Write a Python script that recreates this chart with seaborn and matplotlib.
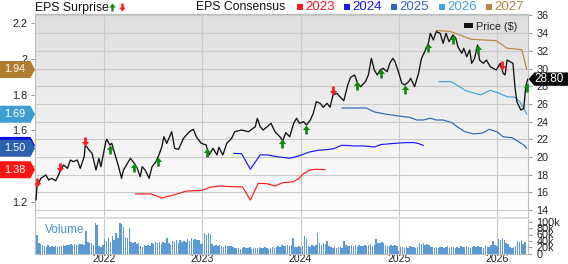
import numpy as np
import matplotlib
matplotlib.use("Agg")
import matplotlib.pyplot as plt
import seaborn as sns
from matplotlib.path import Path
from matplotlib.patches import Polygon, Rectangle
from matplotlib.lines import Line2D
from matplotlib.colors import LinearSegmentedColormap

# ---------------- data ----------------
price_t = [2021.31, 2021.32, 2021.36, 2021.41, 2021.44, 2021.47, 2021.51, 2021.54, 2021.56, 2021.59,
           2021.63, 2021.66, 2021.69, 2021.73, 2021.76, 2021.80, 2021.81, 2021.83, 2021.85, 2021.88,
           2021.92, 2021.95, 2021.97, 2021.99, 2022.02, 2022.03, 2022.06, 2022.08, 2022.12, 2022.15,
           2022.18, 2022.20, 2022.24, 2022.27, 2022.31, 2022.34, 2022.37, 2022.39, 2022.42, 2022.46,
           2022.49, 2022.53, 2022.56, 2022.59, 2022.61, 2022.64, 2022.69, 2022.72, 2022.76, 2022.81,
           2022.87, 2022.91, 2022.94, 2022.99, 2023.04, 2023.07, 2023.11, 2023.15, 2023.17, 2023.21,
           2023.25, 2023.30, 2023.33, 2023.40, 2023.47, 2023.54, 2023.56, 2023.59, 2023.62, 2023.66,
           2023.70, 2023.74, 2023.79, 2023.82, 2023.85, 2023.89, 2023.93, 2023.96, 2023.99, 2024.03,
           2024.06, 2024.10, 2024.13, 2024.16, 2024.20, 2024.23, 2024.27, 2024.30, 2024.33, 2024.37,
           2024.40, 2024.44, 2024.48, 2024.51, 2024.55, 2024.58, 2024.61, 2024.66, 2024.69, 2024.72,
           2024.75, 2024.78, 2024.81, 2024.84, 2024.88, 2024.91, 2024.94, 2024.96, 2024.99, 2025.03,
           2025.06, 2025.10, 2025.12, 2025.16, 2025.20, 2025.23, 2025.27, 2025.30, 2025.32, 2025.35,
           2025.38, 2025.42, 2025.45, 2025.48, 2025.51, 2025.55, 2025.58, 2025.60, 2025.64, 2025.66,
           2025.69, 2025.72, 2025.74, 2025.77, 2025.80, 2025.82, 2025.86, 2025.89, 2025.93, 2025.96,
           2025.99, 2026.03, 2026.06, 2026.08, 2026.10, 2026.13, 2026.16, 2026.18, 2026.20, 2026.24,
           2026.27, 2026.29, 2026.31]
price_v = [15.14, 16.64, 17.59, 17.97, 17.40, 17.59, 17.32, 17.97, 18.53, 19.10,
           18.72, 19.66, 19.47, 19.66, 18.72, 20.03, 21.24, 21.10, 20.79, 20.42,
           18.53, 19.85, 18.90, 20.03, 21.73, 22.00, 21.36, 21.55, 20.03, 18.90,
           17.59, 18.53, 19.29, 19.85, 19.29, 18.72, 17.77, 18.90, 18.53, 17.59,
           18.90, 19.47, 20.23, 21.16, 22.29, 21.55, 22.86, 20.98, 20.87, 22.11,
           22.86, 23.13, 22.29, 21.55, 21.36, 20.23, 20.98, 20.23, 21.10, 20.23,
           21.55, 22.11, 22.86, 23.05, 22.86, 23.42, 24.37, 23.42, 23.05, 23.42,
           23.81, 22.86, 22.29, 21.84, 22.75, 22.29, 23.81, 24.37, 23.81, 23.99,
           23.62, 24.18, 24.94, 26.25, 26.07, 25.62, 26.07, 25.62, 27.01, 27.20,
           26.81, 26.36, 28.14, 29.01, 29.27, 28.33, 27.94, 28.51, 29.27, 31.15,
           29.83, 29.27, 29.83, 30.02, 29.64, 30.66, 31.15, 30.77, 29.83, 28.33,
           28.14, 28.51, 28.89, 27.94, 29.46, 31.15, 32.09, 32.85, 33.98, 33.22,
           34.16, 33.98, 32.85, 33.98, 33.03, 33.79, 33.41, 32.46, 31.72, 32.28,
           31.33, 32.09, 30.59, 31.15, 32.66, 30.96, 30.59, 30.96, 30.20, 30.02,
           29.83, 30.59, 29.46, 29.27, 30.96, 30.77, 30.59, 27.94, 26.25, 25.31,
           25.50, 27.94, 28.80]

e2023_t = [2022.32, 2022.48, 2022.59, 2022.71, 2022.84, 2022.99, 2023.08, 2023.18, 2023.28, 2023.41,
           2023.49, 2023.57, 2023.66, 2023.74, 2023.82, 2023.92, 2023.98, 2024.03, 2024.09, 2024.15, 2024.25]
e2023_v = [1.245, 1.245, 1.222, 1.239, 1.261, 1.264, 1.282, 1.289, 1.286, 1.284,
           1.211, 1.304, 1.302, 1.289, 1.308, 1.312, 1.330, 1.358, 1.377, 1.383, 1.38]
e2024_t = [2023.32, 2023.40, 2023.49, 2023.59, 2023.66, 2023.76, 2023.89, 2023.98, 2024.09, 2024.18,
           2024.28, 2024.34, 2024.42, 2024.55, 2024.64, 2024.75, 2024.82, 2024.95, 2025.05, 2025.15,
           2025.20, 2025.25]
e2024_v = [1.471, 1.470, 1.383, 1.463, 1.463, 1.453, 1.444, 1.457, 1.479, 1.489,
           1.493, 1.498, 1.517, 1.513, 1.513, 1.507, 1.521, 1.527, 1.531, 1.532,
           1.526, 1.516]
e2025_t = [2024.42, 2024.67, 2024.75, 2024.85, 2025.00, 2025.11, 2025.18, 2025.25, 2025.32, 2025.38,
           2025.45, 2025.54, 2025.59, 2025.67, 2025.76, 2025.85, 2025.92, 2026.00, 2026.06, 2026.15,
           2026.22, 2026.27, 2026.30]
e2025_v = [1.725, 1.725, 1.703, 1.692, 1.680, 1.673, 1.658, 1.658, 1.668, 1.658,
           1.658, 1.643, 1.621, 1.593, 1.580, 1.585, 1.606, 1.591, 1.564, 1.559,
           1.536, 1.518, 1.50]
e2026_t = [2025.41, 2025.53, 2025.59, 2025.68, 2025.83, 2025.93, 2026.02, 2026.10, 2026.18, 2026.23,
           2026.28, 2026.30]
e2026_v = [1.872, 1.872, 1.854, 1.822, 1.798, 1.824, 1.807, 1.788, 1.785, 1.760, 1.714, 1.69]
e2027_t = [2025.38, 2025.52, 2025.62, 2025.73, 2025.99, 2026.10, 2026.25, 2026.30]
e2027_v = [2.158, 2.153, 2.133, 2.109, 2.101, 2.059, 2.051, 1.94]

beat_t = [2022.06, 2022.31, 2022.55, 2023.05, 2023.81, 2024.06, 2024.57, 2024.82, 2025.06,
          2025.30, 2025.55, 2025.80, 2026.30]
miss_t = [2021.32, 2021.55, 2021.81, 2024.33, 2026.05]

vol_start = 2021.30
volume_k = [52, 57, 35, 30, 28, 24, 22, 26, 21, 23, 20, 24, 22,
            25, 23, 27, 24, 26, 28, 30, 27, 31, 28, 26, 30, 29,
            27, 70, 36, 33, 35, 28, 97, 90, 25, 22, 27, 45, 40,
            48, 38, 55, 42, 65, 50, 97, 93, 85, 52, 48, 80, 36,
            33, 38, 30, 35, 25, 22, 28, 24, 26, 23, 35, 30, 38,
            33, 36, 30, 38, 34, 50, 32, 28, 40, 37, 42, 35, 44,
            38, 41, 36, 45, 40, 48, 43, 46, 42, 44, 30, 35, 65,
            60, 66, 62, 30, 25, 27, 23, 26, 24, 22, 28, 25, 24,
            23, 20, 18, 17, 19, 16, 18, 20, 17, 18, 21, 16, 19,
            18, 17, 20, 19, 17, 22, 18, 16, 19, 21, 17, 20, 24,
            22, 26, 25, 23, 28, 24, 27, 50, 22, 20, 24, 21, 23,
            55, 47, 25, 22, 26, 24, 27, 65, 32, 28, 35, 30, 40,
            25, 20, 18, 21, 19, 22, 20, 18, 40, 28, 25, 23, 27,
            24, 26, 22, 28, 25, 23, 27, 24, 26, 29, 25, 28, 47,
            35, 32, 36, 33, 27, 25, 23, 26, 24, 27, 25, 7, 20,
            22, 19, 21, 18, 23, 20, 22, 19, 21, 35, 30, 32, 28,
            30, 27, 22, 20, 18, 21, 19, 22, 20, 18, 21, 23, 19,
            20, 22, 18, 21, 19, 24, 22, 20, 23, 21, 19, 22, 24,
            20, 23, 21, 22, 19, 24, 22, 20, 26, 40, 28, 25, 45,
            42, 48, 44, 35, 30, 20, 18, 21, 25, 40, 38, 42, 30,
            38]

years = [2022, 2023, 2024, 2025, 2026]
price_ticks = [14, 16, 18, 20, 22, 24, 26, 28, 30, 32, 34, 36]
eps_ticks = [1.2, 1.4, 1.6, 1.8, 2.0, 2.2]
eps_tick_labels = ["1.2", "1.4", "1.6", "1.8", "2", "2.2"]
vol_ticks = [0, 20, 40, 60, 80, 100]
vol_tick_labels = ["0", "20k", "40k", "60k", "80k", "100k"]

series = [("2023", e2023_t, e2023_v, "#ff1a1a"),
          ("2024", e2024_t, e2024_v, "#1a1aff"),
          ("2025", e2025_t, e2025_v, "#2f68b4"),
          ("2026", e2026_t, e2026_v, "#45a3d8"),
          ("2027", e2027_t, e2027_v, "#b8873f")]
tag_colors = {"2023": "#ff1414", "2024": "#0a0af0", "2025": "#2b62ad",
              "2026": "#3d9fd1", "2027": "#b07d30"}

# ---------------- layout ----------------
sns.set_style("white")
plt.rcParams["font.family"] = ["Liberation Sans", "DejaVu Sans"]

W, H = 568, 264
fig = plt.figure(figsize=(W / 100, H / 100), dpi=100)


def fx(px):
    return px / W


def fy(py):
    return 1 - py / H


X0, X1 = 35, 528
PT, PB = 14, 217
VT, VB = 218.5, 253.7
XL, XR = 2021.30, 2026.313
P_LO, P_HI = 13.22, 36.16
E_LO, E_HI = 1.116, 2.250
GRID = "#cacaca"
SPINE = "#bdbdbd"
TXT = "#222222"

ax_e = fig.add_axes([fx(X0), fy(PB), fx(X1 - X0), (PB - PT) / H])
ax_p = ax_e.twinx()

# gradient background
cmap = LinearSegmentedColormap.from_list("g", ["#dedede", "#ffffff"])
ax_e.imshow(np.linspace(0, 1, 256).reshape(-1, 1), cmap=cmap, extent=[0, 1, 0, 1],
            transform=ax_e.transAxes, aspect="auto", zorder=0)

# EPS consensus lines
for name, t, v, c in series:
    sns.lineplot(x=t, y=v, ax=ax_e, color=c, linewidth=0.85, estimator=None, sort=False)

ax_e.set_xlim(XL, XR)
ax_e.set_ylim(E_LO, E_HI)
ax_e.set_yticks(eps_ticks)
ax_e.set_yticklabels(eps_tick_labels)
# grid at price ticks (expressed in EPS units of this axis)
grid_e = [E_LO + (p - P_LO) / (P_HI - P_LO) * (E_HI - E_LO) for p in price_ticks]
ax_e.set_yticks(grid_e, minor=True)
ax_e.set_xticks(years)
ax_e.set_axisbelow(True)
ax_e.grid(False)
ax_e.yaxis.grid(True, which="minor", color=GRID, linewidth=0.8)
ax_e.xaxis.grid(True, which="major", color=GRID, linewidth=0.8)
ax_e.tick_params(axis="x", length=0, labelbottom=False)
ax_e.tick_params(axis="y", which="major", left=True, right=False, length=3.2, width=0.7,
                 color="#999999", labelsize=7.8, labelcolor=TXT, pad=2)
ax_e.tick_params(axis="y", which="minor", length=0)
ax_e.set_xlabel("")
ax_e.set_ylabel("")

# price line
sns.lineplot(x=price_t, y=price_v, ax=ax_p, color="#111111", linewidth=0.95, estimator=None, sort=False)

up_path = Path([(0, 0), (-0.8, -1.0), (-0.3, -1.0), (-0.3, -2.0), (0.3, -2.0), (0.3, -1.0), (0.8, -1.0), (0, 0)],
               [Path.MOVETO] + [Path.LINETO] * 6 + [Path.CLOSEPOLY])
down_path = Path([(x, -y) for x, y in up_path.vertices], up_path.codes)

beat_y = np.interp(beat_t, price_t, price_v)
miss_y = np.interp(miss_t, price_t, price_v)
ax_p.plot(beat_t, beat_y, linestyle="none", marker=up_path, markersize=13,
          color="#128a12", markeredgewidth=0, zorder=5)
ax_p.plot(miss_t, miss_y, linestyle="none", marker=down_path, markersize=13,
          color="#ff1a1a", markeredgewidth=0, zorder=5)

ax_p.set_xlim(XL, XR)
ax_p.set_ylim(P_LO, P_HI)
ax_p.set_yticks(price_ticks)
ax_p.set_yticklabels([str(p) for p in price_ticks])
ax_p.grid(False)
ax_p.tick_params(axis="y", right=True, left=False, labelright=True, labelleft=False,
                 length=3.2, width=0.7, color="#999999", labelsize=7.8, labelcolor=TXT, pad=3)
ax_p.tick_params(axis="x", length=0, labelbottom=False)
ax_p.set_xlabel("")
ax_p.set_ylabel("")

for a in (ax_e, ax_p):
    for s in a.spines.values():
        s.set_color(SPINE)
        s.set_linewidth(0.8)
    a.spines["bottom"].set_visible(False)
ax_e.spines["right"].set_visible(False)
ax_p.spines["left"].set_visible(False)

# price legend
fig.add_artist(Rectangle((fx(464), fy(27.5)), fx(9), 4.5 / H, transform=fig.transFigure,
                         facecolor="#111111", edgecolor="none", zorder=4))
fig.text(fx(476.5), fy(29.5), "Price ($)", fontsize=7.8, color=TXT, va="baseline", ha="left")

# ---------------- volume ----------------
ax_v = fig.add_axes([fx(X0), fy(VB), fx(X1 - X0), (VB - VT) / H])
week = 7 / 365.25
vol_t = [vol_start + i * week for i in range(len(volume_k))]
ax_v.bar(vol_t, volume_k, width=week * 0.78, color="#5b9bd5", linewidth=0, zorder=2)
ax_v.set_xlim(XL, XR)
ax_v.set_ylim(0, 110)
ax_v.set_xticks(years)
ax_v.set_xticklabels([str(y) for y in years])
ax_v.set_yticks(vol_ticks)
ax_v.set_yticklabels(vol_tick_labels)
ax_v.yaxis.tick_right()
ax_v.set_axisbelow(True)
ax_v.grid(False)
ax_v.xaxis.grid(True, color=GRID, linewidth=0.8)
ax_v.tick_params(axis="y", length=3.2, width=0.7, color="#999999", labelsize=7.8,
                 labelcolor=TXT, pad=3)
ax_v.tick_params(axis="x", length=0, labelsize=7.6, labelcolor=TXT, pad=0.5)
for s in ax_v.spines.values():
    s.set_color(SPINE)
    s.set_linewidth(0.8)
ax_v.spines["top"].set_visible(False)
fig.text(fx(45), fy(233), "Volume", fontsize=8.5, color="#4a8fd0", va="baseline", ha="left")

# separator band between panels
fig.add_artist(Rectangle((fx(X0), fy(219.2)), fx(X1 - X0), 2.6 / H, transform=fig.transFigure,
                         facecolor="#dddddd", edgecolor="none", zorder=3))

# ---------------- tags ----------------
fig.canvas.draw()


def y_px(ax, val):
    return ax.transData.transform((XL, val))[1] * H / fig.bbox.height


def left_tag(val, color, z):
    yc = y_px(ax_e, val)
    hh = 8.5
    pts = [(0, yc - hh), (30.5, yc - hh), (35, yc), (30.5, yc + hh), (0, yc + hh)]
    fig.add_artist(Polygon([(x / W, y / H) for x, y in pts], closed=True, transform=fig.transFigure,
                           facecolor=color, edgecolor="none", zorder=z))
    fig.text(15 / W, yc / H, f"{val:.2f}", color="white", fontsize=7.8, ha="center", va="center",
             zorder=z + 0.5)


order = ["2027", "2026", "2024", "2025", "2023"]
lookup = {n: (t, v) for n, t, v, c in series}
for k, name in enumerate(order):
    left_tag(lookup[name][1][-1], tag_colors[name], 10 + k)

yc = y_px(ax_p, price_v[-1])
hh = 6.7
pts = [(528.5, yc), (534.5, yc + hh), (568, yc + hh), (568, yc - hh), (534.5, yc - hh)]
fig.add_artist(Polygon([(x / W, y / H) for x, y in pts], closed=True, transform=fig.transFigure,
                       facecolor="#0a0a0a", edgecolor="none", zorder=20))
fig.text(549 / W, yc / H, f"{price_v[-1]:.2f}", color="white", fontsize=8.5, ha="center",
         va="center", zorder=21)

# ---------------- header ----------------
fig.text(fx(35), fy(10.5), "EPS Surprise", fontsize=8.8, color="#111111", va="baseline", ha="left")
fig.add_artist(Line2D([fx(111.5)], [fy(2.5)], marker=up_path, markersize=11.5, color="#128a12",
                      markeredgewidth=0, linestyle="none", transform=fig.transFigure, zorder=5))
fig.add_artist(Line2D([fx(122)], [fy(10.5)], marker=down_path, markersize=11.5, color="#ff1a1a",
                      markeredgewidth=0, linestyle="none", transform=fig.transFigure, zorder=5))
fig.text(fx(196.5), fy(10.5), "EPS Consensus", fontsize=8.8, color="#111111", va="baseline", ha="left")
sq_x = [297, 344, 391, 439, 486]
for (name, t, v, c), sx in zip(series, sq_x):
    fig.add_artist(Rectangle((fx(sx), fy(9.5)), fx(6), 6 / H, transform=fig.transFigure,
                             facecolor=c, edgecolor="none"))
    fig.text(fx(sx + 8), fy(10.5), name, fontsize=9.6, color=c, va="baseline", ha="left")

fig.savefig("out.png", dpi=100)
